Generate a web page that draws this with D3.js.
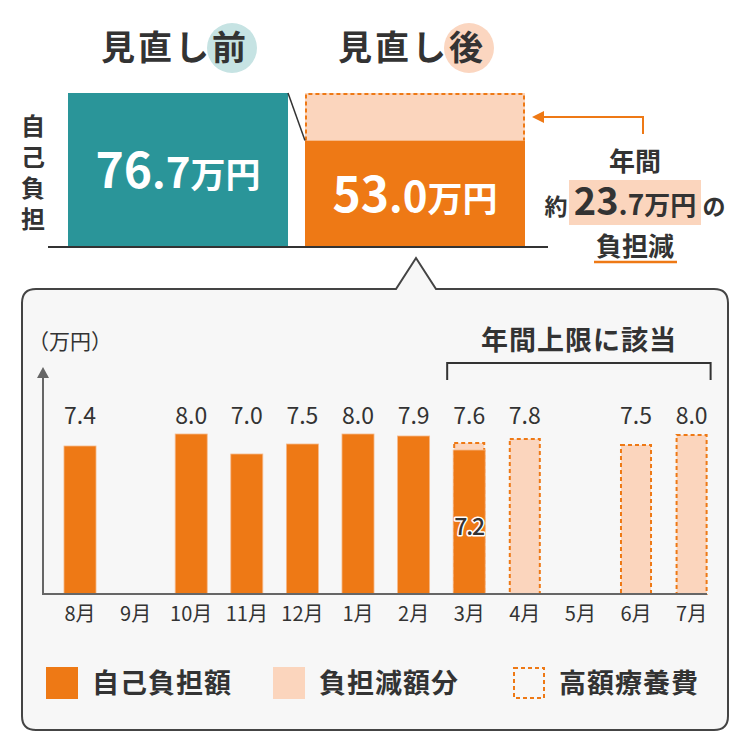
<!DOCTYPE html>
<html><head><meta charset="utf-8">
<script src="https://cdn.jsdelivr.net/npm/d3@7"></script>
<style>
html,body{margin:0;padding:0;background:#fff;}
svg{display:block;font-family:"Noto Sans CJK JP","Noto Sans",sans-serif;}
</style></head>
<body>
<svg id="chart" width="750" height="750"></svg>
<script>
// ---- data ----
const summaryCategories = ["見直し前", "見直し後"];
const summaryValues = [76.7, 53.0];
const summaryLabelsInt = ["76", "53"];
const summaryLabelsDec = [".7", ".0"];
const reduction = ["23", ".7"];
const months = ["8月","9月","10月","11月","12月","1月","2月","3月","4月","5月","6月","7月"];
const selfPay = [7.4, null, 8.0, 7.0, 7.5, 8.0, 7.9, 7.2, null, null, null, null];
const highCostTotal = [null, null, null, null, null, null, null, 7.6, 7.8, null, 7.5, 8.0];
const topLabels = ["7.4", "", "8.0", "7.0", "7.5", "8.0", "7.9", "7.6", "7.8", "", "7.5", "8.0"];
const legendItems = ["自己負担額", "負担減額分", "高額療養費"];

const ORANGE = "#ee7915", TEAL = "#2a9599", PEACH = "#fbd5bd", TEXT = "#333";
const svg = d3.select("#chart");

// ---- top summary ----
const sx = d3.scaleBand().domain(summaryCategories).range([68, 525]).paddingInner(0.0717);
const sy = d3.scaleLinear().domain([0, 76.7]).range([247, 93]);
const bw = sx.bandwidth();

// titles
const titleCirc = ["#c6e3e3", "#fbd6c0"];
summaryCategories.forEach((t, i) => {
  const cx = sx(t) + bw / 2;
  svg.append("circle").attr("cx", cx + 54).attr("cy", 48).attr("r", 25).attr("fill", titleCirc[i]);
  svg.append("text").attr("x", cx - 77).attr("y", 60)
    .attr("font-size", 34).attr("font-weight", 700).attr("fill", TEXT).attr("letter-spacing", 3)
    .text(t);
});

// before bar
svg.append("rect").attr("x", sx(summaryCategories[0])).attr("y", sy(summaryValues[0]))
  .attr("width", bw).attr("height", sy(0) - sy(summaryValues[0])).attr("fill", TEAL);
// after: reduction region
const ax = sx(summaryCategories[1]);
svg.append("rect").attr("x", ax).attr("y", sy(summaryValues[0]))
  .attr("width", bw).attr("height", sy(summaryValues[1]) - sy(summaryValues[0])).attr("fill", PEACH);
svg.append("path")
  .attr("d", `M${ax+1},${sy(summaryValues[1])} V${sy(summaryValues[0])+1} H${ax+bw-1} V${sy(summaryValues[1])}`)
  .attr("fill", "none").attr("stroke", ORANGE).attr("stroke-width", 2).attr("stroke-dasharray", "4 3");
svg.append("rect").attr("x", ax).attr("y", sy(summaryValues[1]))
  .attr("width", bw).attr("height", sy(0) - sy(summaryValues[1])).attr("fill", ORANGE);
// diagonal
svg.append("line").attr("x1", sx(summaryCategories[0]) + bw).attr("y1", sy(summaryValues[0]))
  .attr("x2", ax).attr("y2", sy(summaryValues[1])).attr("stroke", "#333").attr("stroke-width", 1.5);
// baseline
svg.append("line").attr("x1", 48).attr("x2", 548).attr("y1", sy(0)).attr("y2", sy(0))
  .attr("stroke", "#333").attr("stroke-width", 2);

// labels inside bars
summaryCategories.forEach((t, i) => {
  const cx = sx(t) + bw / 2;
  const mid = (sy(summaryValues[i]) + sy(0)) / 2;
  const tx = svg.append("text").attr("x", cx).attr("y", mid + 18).attr("text-anchor", "middle")
    .attr("fill", "#fff").attr("font-weight", 700);
  tx.append("tspan").attr("font-size", 48).text(summaryLabelsInt[i]);
  tx.append("tspan").attr("font-size", 42).text(summaryLabelsDec[i]);
  tx.append("tspan").attr("font-size", 35).text("万円");
});

// vertical label 自己負担
svg.append("text").attr("x", 33).attr("y", 114)
  .style("writing-mode", "vertical-rl").attr("letter-spacing", 7)
  .attr("font-size", 24).attr("font-weight", 700).attr("fill", TEXT).text("自己負担");

// arrow annotation
svg.append("path").attr("d", "M643,134 V117 H542").attr("fill", "none")
  .attr("stroke", ORANGE).attr("stroke-width", 2);
svg.append("path").attr("d", "M532,117 L544,111 L544,123 Z").attr("fill", ORANGE);

svg.append("text").attr("x", 635).attr("y", 171).attr("text-anchor", "middle")
  .attr("font-size", 26).attr("font-weight", 700).attr("fill", TEXT).text("年間");
svg.append("rect").attr("x", 569).attr("y", 180).attr("width", 132).attr("height", 45).attr("fill", PEACH);
svg.append("text").attr("x", 556).attr("y", 215).attr("text-anchor", "middle")
  .attr("font-size", 23).attr("font-weight", 700).attr("fill", TEXT).text("約");
const rt = svg.append("text").attr("x", 635).attr("y", 215).attr("text-anchor", "middle")
  .attr("font-weight", 700).attr("fill", TEXT);
rt.append("tspan").attr("font-size", 38).text(reduction[0]);
rt.append("tspan").attr("font-size", 28).text(reduction[1]);
rt.append("tspan").attr("font-size", 26).text("万円");
svg.append("text").attr("x", 714).attr("y", 215).attr("text-anchor", "middle")
  .attr("font-size", 23).attr("font-weight", 700).attr("fill", TEXT).text("の");
svg.append("text").attr("x", 635).attr("y", 256).attr("text-anchor", "middle")
  .attr("font-size", 26).attr("font-weight", 700).attr("fill", TEXT).text("負担減");
svg.append("line").attr("x1", 594).attr("x2", 677).attr("y1", 262).attr("y2", 262)
  .attr("stroke", ORANGE).attr("stroke-width", 2.5);

// ---- panel ----
const L = 22, R = 728, T = 289, B = 730, r = 14;
svg.append("path").attr("d",
  `M${L+r},${T} H396 L416,258 L436,${T} H${R-r} Q${R},${T} ${R},${T+r} V${B-r} Q${R},${B} ${R-r},${B} H${L+r} Q${L},${B} ${L},${B-r} V${T+r} Q${L},${T} ${L+r},${T} Z`)
  .attr("fill", "#f7f7f7").attr("stroke", "#444").attr("stroke-width", 2);

// ---- monthly bar chart ----
const x = d3.scaleBand().domain(months).range([52.2, 719.4]).paddingInner(0.424).paddingOuter(0.212);
const y = d3.scaleLinear().domain([0, 8]).range([594, 434]);
const mbw = x.bandwidth();

svg.append("text").attr("x", 28).attr("y", 349).attr("font-size", 21).attr("fill", TEXT).text("（万円）");

// high-cost dashed bars
const hc = months.map((m, i) => ({m, v: highCostTotal[i]})).filter(d => d.v != null);
svg.append("g").selectAll("rect").data(hc).join("rect")
  .attr("x", d => x(d.m) + 1).attr("y", d => y(d.v) + 1)
  .attr("width", mbw - 2).attr("height", d => y(0) - y(d.v) - 1)
  .attr("fill", PEACH).attr("stroke", ORANGE).attr("stroke-width", 2).attr("stroke-dasharray", "4 3");

// self-pay bars
const sp = months.map((m, i) => ({m, v: selfPay[i]})).filter(d => d.v != null);
svg.append("g").selectAll("rect").data(sp).join("rect")
  .attr("x", d => x(d.m)).attr("y", d => y(d.v))
  .attr("width", mbw).attr("height", d => y(0) - y(d.v))
  .attr("fill", ORANGE).attr("stroke", "#f6b98a").attr("stroke-width", 0.8);

// top labels
svg.append("g").selectAll("text").data(months.map((m, i) => ({m, t: topLabels[i]}))).join("text")
  .attr("x", d => x(d.m) + mbw / 2).attr("y", 424).attr("text-anchor", "middle")
  .attr("font-size", 23).attr("fill", TEXT).text(d => d.t);

// inner label for partially covered month
const partIdx = months.findIndex((m, i) => selfPay[i] != null && highCostTotal[i] != null);
svg.append("text").attr("x", x(months[partIdx]) + mbw / 2).attr("y", 535).attr("text-anchor", "middle")
  .attr("font-size", 23).attr("font-weight", 500).attr("fill", TEXT)
  .attr("stroke", "#fff").attr("stroke-width", 3).attr("paint-order", "stroke").attr("stroke-linejoin", "round")
  .attr("letter-spacing", -1)
  .text(selfPay[partIdx].toFixed(1));

// axes
const xAxis = svg.append("g").attr("transform", "translate(0,594)")
  .call(d3.axisBottom(x).tickSize(0).tickPadding(10));
xAxis.attr("font-size", 20).attr("font-family", '"Noto Sans CJK JP", sans-serif');
xAxis.select(".domain").remove();
xAxis.selectAll("text").style("font-size", "20px").attr("fill", TEXT).attr("dy", "0.85em");
svg.append("line").attr("x1", 43).attr("x2", 707).attr("y1", 594).attr("y2", 594)
  .attr("stroke", "#666").attr("stroke-width", 2);
svg.append("line").attr("x1", 43).attr("x2", 43).attr("y1", 595).attr("y2", 376)
  .attr("stroke", "#666").attr("stroke-width", 2);
svg.append("path").attr("d", "M43,367 L37,378 L49,378 Z").attr("fill", "#666");

// bracket
const bx0 = x(months[7]) - 6, bx1 = x(months[11]) + mbw + 3;
svg.append("path").attr("d", `M${bx0},380 V363 H${bx1} V380`).attr("fill", "none")
  .attr("stroke", "#333").attr("stroke-width", 2);
svg.append("text").attr("x", (bx0 + bx1) / 2).attr("y", 350).attr("text-anchor", "middle")
  .attr("font-size", 27).attr("font-weight", 700).attr("letter-spacing", 1).attr("fill", TEXT).text("年間上限に該当");

// legend
const lg = svg.append("g");
const lx = [46, 273, 513];
legendItems.forEach((t, i) => {
  const r = lg.append("rect").attr("x", lx[i] + (i === 2 ? 1 : 0)).attr("y", 667 + (i === 2 ? 1 : 0))
    .attr("width", i === 2 ? 30 : 32).attr("height", i === 2 ? 30 : 32);
  if (i === 0) r.attr("fill", ORANGE);
  else if (i === 1) r.attr("fill", PEACH);
  else r.attr("fill", "none").attr("stroke", ORANGE).attr("stroke-width", 2).attr("stroke-dasharray", "4 3");
  lg.append("text").attr("x", lx[i] + 46).attr("y", 693).attr("font-size", 27).attr("font-weight", 700)
    .attr("letter-spacing", 1).attr("fill", TEXT).text(t);
});
</script>
</body></html>
